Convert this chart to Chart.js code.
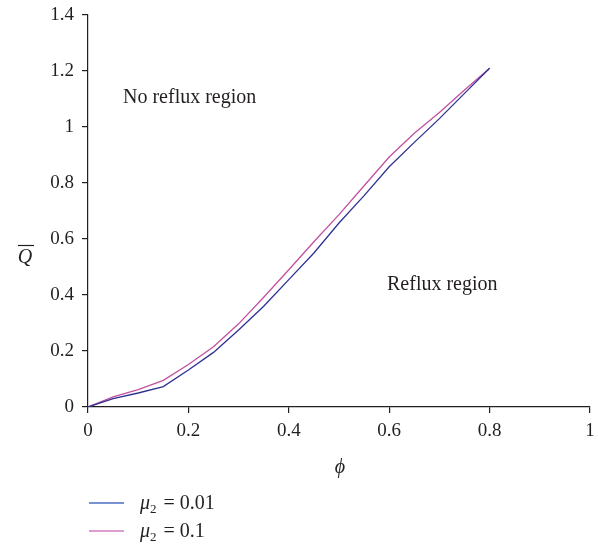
<!DOCTYPE html>
<html>
<head>
<meta charset="utf-8">
<script src="https://cdn.jsdelivr.net/npm/chart.js@4"></script>
<style>
html,body{margin:0;padding:0;background:#fff;}
#wrap{position:relative;width:598px;height:546px;}
</style>
</head>
<body>
<div id="wrap"><canvas id="c" width="598" height="546"></canvas></div>
<script>
const phi = [0, 0.05, 0.1, 0.15, 0.2, 0.25, 0.3, 0.35, 0.4, 0.45, 0.5, 0.55, 0.6, 0.65, 0.7, 0.75, 0.8];
const qMu001 = [0, 0.03, 0.05, 0.073, 0.132, 0.195, 0.275, 0.36, 0.455, 0.55, 0.657, 0.755, 0.858, 0.945, 1.03, 1.12, 1.21];
const qMu01 = [0, 0.036, 0.062, 0.095, 0.152, 0.215, 0.297, 0.392, 0.49, 0.59, 0.687, 0.79, 0.893, 0.978, 1.052, 1.132, 1.21];
const seriesLabels = ["0.01", "0.1"];
const xTicks = [0, 0.2, 0.4, 0.6, 0.8, 1];
const yTicks = [0, 0.2, 0.4, 0.6, 0.8, 1, 1.2, 1.4];
const notes = ["No reflux region", "Reflux region"];

const BLUE = "#2e3192";
const PINK = "#c4509f";
const LEG_COLORS = ["#4a6cc2", "#d27cc4"];
const FONT = "'Liberation Serif', 'DejaVu Serif', serif";
const INK = "#231f20";

function pts(ys) { return phi.map((x, i) => ({x: x, y: ys[i]})); }
function noPad(s) { s.paddingTop = 0; s.paddingBottom = 0; s.paddingLeft = 0; s.paddingRight = 0; }

const overlay = {
  id: 'overlay',
  afterDraw(chart) {
    const ctx = chart.ctx;
    ctx.save();
    ctx.fillStyle = INK;
    ctx.textBaseline = 'alphabetic';
    // annotations
    ctx.font = "20px " + FONT;
    ctx.textAlign = 'left';
    ctx.fillText(notes[0], 123, 103);
    ctx.fillText(notes[1], 387, 290);
    // x title
    ctx.font = "italic 20px " + FONT;
    ctx.textAlign = 'center';
    ctx.fillText("\u03D5", 340, 473);
    // y title Q-bar
    ctx.font = "italic 20px " + FONT;
    ctx.textAlign = 'center';
    const qx = 25, qy = 263;
    ctx.fillText("Q", qx, qy);
    ctx.strokeStyle = INK;
    ctx.lineWidth = 1.2;
    ctx.beginPath();
    ctx.moveTo(qx - 7, qy - 17.5);
    ctx.lineTo(qx + 9, qy - 17.5);
    ctx.stroke();
    // legend
    const ds = chart.data.datasets;
    const rowsY = [503, 531];
    ds.forEach((d, i) => {
      const y = rowsY[i];
      ctx.strokeStyle = LEG_COLORS[i];
      ctx.lineWidth = 1.6;
      ctx.beginPath();
      ctx.moveTo(89, y);
      ctx.lineTo(124, y);
      ctx.stroke();
      ctx.textAlign = 'left';
      let x = 140;
      ctx.font = "italic 20px " + FONT;
      ctx.fillText("\u03BC", x, y + 6);
      x += ctx.measureText("\u03BC").width;
      ctx.font = "13px " + FONT;
      ctx.fillText("2", x, y + 10);
      x += ctx.measureText("2").width + 7;
      ctx.font = "20px " + FONT;
      ctx.fillText("= " + seriesLabels[i], x, y + 6);
    });
    ctx.restore();
  }
};

new Chart(document.getElementById('c'), {
  type: 'line',
  data: {
    datasets: [
      {label: "\u03BC2 = " + seriesLabels[0], data: pts(qMu001), borderColor: BLUE, borderWidth: 1.3, pointRadius: 0, fill: false, tension: 0},
      {label: "\u03BC2 = " + seriesLabels[1], data: pts(qMu01), borderColor: PINK, borderWidth: 1.3, pointRadius: 0, fill: false, tension: 0}
    ]
  },
  options: {
    responsive: false,
    animation: false,
    devicePixelRatio: 1,
    layout: {padding: {left: 0, right: 8, top: 15, bottom: 0}},
    plugins: {legend: {display: false}, tooltip: {enabled: false}},
    scales: {
      x: {
        type: 'linear', min: 0, max: 1,
        afterFit(s) { s.height = 139; noPad(s); },
        afterBuildTicks(s) { s.ticks = xTicks.map(v => ({value: v})); },
        grid: {display: true, drawOnChartArea: false, drawTicks: true, tickLength: 6, color: INK, lineWidth: 1.2},
        border: {display: true, color: INK, width: 1.2},
        ticks: {color: INK, font: {family: FONT, size: 19}, padding: 7, maxRotation: 0,
          callback: v => String(v)}
      },
      y: {
        type: 'linear', min: 0, max: 1.4,
        afterFit(s) { s.width = 88; noPad(s); },
        afterBuildTicks(s) { s.ticks = yTicks.map(v => ({value: v})); },
        grid: {display: true, drawOnChartArea: false, drawTicks: true, tickLength: 6, color: INK, lineWidth: 1.2},
        border: {display: true, color: INK, width: 1.2},
        ticks: {color: INK, font: {family: FONT, size: 19}, padding: 8,
          callback: v => String(v)}
      }
    }
  },
  plugins: [overlay]
});
</script>
</body>
</html>
